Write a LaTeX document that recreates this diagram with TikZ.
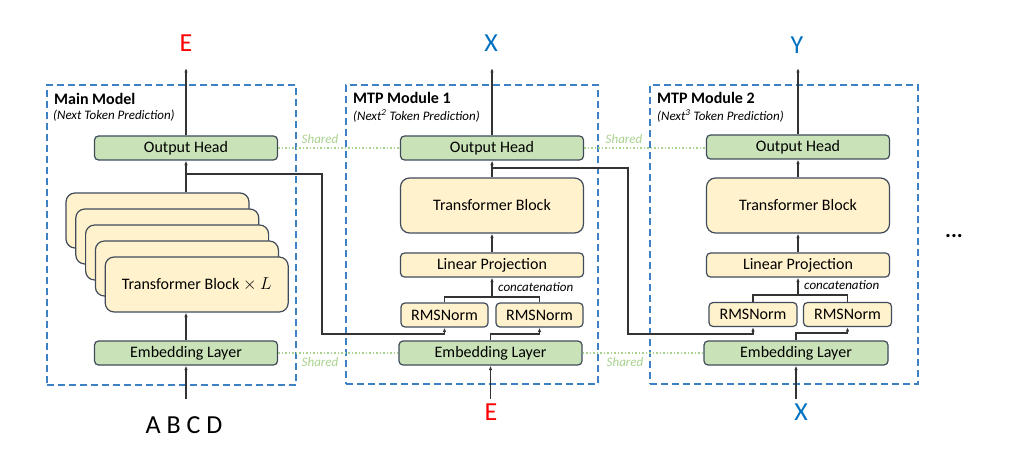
\documentclass[tikz,border=0pt]{standalone}
\usepackage{fontspec}
\setmainfont{Carlito}
\usetikzlibrary{arrows.meta,calc}
\definecolor{gfill}{HTML}{C9E2B8}
\definecolor{yfill}{HTML}{FFF2CC}
\definecolor{bord}{HTML}{3F4B5B}
\definecolor{dblue}{HTML}{3D80C4}
\definecolor{shgreen}{HTML}{A9D18E}
\definecolor{xblue}{HTML}{0070C0}
\definecolor{lnc}{HTML}{333333}
\begin{document}
\begin{tikzpicture}[x=1pt,y=-1pt,
 box/.style={draw=bord, line width=1.2pt, rounded corners=4pt, inner sep=0pt, font=\fontsize{16}{18}\selectfont},
 gbox/.style={box, fill=gfill, minimum height=24pt},
 ybox/.style={box, fill=yfill, minimum height=24pt},
 tbox/.style={box, fill=yfill, rounded corners=9pt, minimum width=183pt, minimum height=55pt},
 modbox/.style={draw=dblue, line width=1.8pt, dash pattern=on 7pt off 4pt, inner sep=0pt},
 arr/.style={draw=lnc, line width=1.2pt, -{Latex[length=4.5pt,width=3.5pt]}},
 ln/.style={draw=lnc, line width=1.2pt},
 shared/.style={draw=shgreen, line width=1.5pt, dash pattern=on 1.5pt off 2pt},
 sharedtxt/.style={text=shgreen, inner sep=0pt, font=\fontsize{13}{15}\selectfont\itshape},
 ttl/.style={font=\fontsize{16}{18}\selectfont\bfseries, anchor=west, inner sep=0pt},
 sub/.style={font=\fontsize{13}{15}\selectfont\itshape, anchor=west, inner sep=0pt},
 cat/.style={font=\fontsize{13}{15}\selectfont\itshape, anchor=west, inner sep=0pt},
 big/.style={font=\fontsize{26}{28}\selectfont, inner sep=0pt},
]
\useasboundingbox (0,0) rectangle (1019,470);

% module frames
\node[modbox, minimum width=249pt, minimum height=300pt] (m0) at (171.5,235) {};
\node[modbox, minimum width=252pt, minimum height=299pt] (m1) at (472,234.5) {};
\node[modbox, minimum width=268pt, minimum height=299pt] (m2) at (784,234.5) {};

% titles
\node[ttl] (t0) at (54,99) {Main Model};
\node[sub] (s0) at (53,116) {(Next Token Prediction)};
\node[ttl] (t1) at (353,98) {MTP Module 1};
\node[sub] (s1) at (353,116) {(Next\textsuperscript{2} Token Prediction)};
\node[ttl] (t2) at (657,98) {MTP Module 2};
\node[sub] (s2) at (657,116) {(Next\textsuperscript{3} Token Prediction)};

% main model
\node[gbox, minimum width=183pt] (oh0) at (186,148) {Output Head};
\node[gbox, minimum width=183pt] (emb0) at (186,353) {Embedding Layer};
\node[tbox] (L0) at (157.5,220.5) {};
\node[tbox] (L1) at (167.3,236.5) {};
\node[tbox] (L2) at (177.1,252.5) {};
\node[tbox] (L3) at (186.9,268.5) {};
\node[tbox] (L4) at (196.7,284.5) {Transformer Block $\times$ $L$};

% module 1
\node[gbox, minimum width=183pt] (oh1) at (492,148) {Output Head};
\node[tbox] (tb1) at (492,205.5) {Transformer Block};
\node[ybox, minimum width=183pt] (lp1) at (492,265) {Linear Projection};
\node[ybox, minimum width=87pt] (rl1) at (444.5,315) {RMSNorm};
\node[ybox, minimum width=87pt] (rr1) at (539.5,315) {RMSNorm};
\node[gbox, minimum width=183pt] (emb1) at (490.5,353) {Embedding Layer};
\node[cat] (c1) at (498,287) {concatenation};

% module 2
\node[gbox, minimum width=183pt] (oh2) at (798,147) {Output Head};
\node[tbox] (tb2) at (798,205.5) {Transformer Block};
\node[ybox, minimum width=183pt] (lp2) at (798,265) {Linear Projection};
\node[ybox, minimum width=88pt] (rl2) at (753,314.5) {RMSNorm};
\node[ybox, minimum width=88pt] (rr2) at (847.5,314.5) {RMSNorm};
\node[gbox, minimum width=184pt] (emb2) at (796,353) {Embedding Layer};
\node[cat] (c2) at (804,285) {concatenation};

% shared links
\draw[shared] (oh0.east) -- (oh1.west);
\draw[shared] (oh1.east) -- (oh1.east -| oh2.west);
\draw[shared] (emb0.east) -- (emb1.west);
\draw[shared] (emb1.east) -- (emb2.west);
\node[sharedtxt] (sh1) at (320,139) {Shared};
\node[sharedtxt] (sh2) at (624,139) {Shared};
\node[sharedtxt] (sh3) at (320,362) {Shared};
\node[sharedtxt] (sh4) at (625,362) {Shared};

% labels
\node[big, text=red] (oE) at (186,43) {E};
\node[big, text=xblue] (oX) at (491,43) {X};
\node[big, text=xblue] (oY) at (797,45) {Y};
\node[big] (iA) at (184,425) {A B C D};
\node[big, text=red] (iE) at (491,412) {E};
\node[big, text=xblue] (iX) at (801,412) {X};

\coordinate (top0) at (186,68);
\coordinate (top1) at (492,68);
\coordinate (top2) at (798,68);
\coordinate (bot0) at (186,399);
\coordinate (bot1) at (490.5,399);
\coordinate (bot2) at (796,399);

% main model arrows
\draw[arr] (bot0) -- (emb0.south);
\draw[arr] (emb0.north) -- (emb0.north |- L4.south);
\draw[arr] (oh0.south |- L0.north) -- (oh0.south);
\draw[arr] (oh0.north) -- (top0);
\coordinate (j0) at (186,174);
\coordinate (k0) at (322,334);
\draw[arr] (j0) -| (k0) -| (rl1.south);

% module 1 arrows
\draw[arr] (bot1) -- (emb1.south);
\coordinate (e1) at (490.5,334);
\draw[arr] (emb1.north) -- (e1) -| (rr1.south);
\coordinate (cj1) at (492,297);
\draw[ln] (rl1.north) |- (cj1) -| (rr1.north);
\draw[arr] (cj1) -- (lp1.south);
\draw[arr] (lp1.north) -- (tb1.south);
\draw[arr] (tb1.north) -- (oh1.south);
\draw[arr] (oh1.north) -- (top1);
\coordinate (j1) at (492,168);
\coordinate (k1) at (628,334);
\draw[arr] (j1) -| (k1) -| (rl2.south);

% module 2 arrows
\draw[arr] (bot2) -- (emb2.south);
\coordinate (e2) at (796,333);
\draw[arr] (emb2.north) -- (e2) -| (rr2.south);
\coordinate (cj2) at (798,295);
\draw[ln] (rl2.north) |- (cj2) -| (rr2.north);
\draw[arr] (cj2) -- (lp2.south);
\draw[arr] (lp2.north) -- (tb2.south);
\draw[arr] (tb2.north) -- (oh2.south);
\draw[arr] (oh2.north) -- (top2);

\node[font=\fontsize{22}{24}\selectfont\bfseries, inner sep=0pt] (dots) at (954,236) {...};
\end{tikzpicture}
\end{document}
